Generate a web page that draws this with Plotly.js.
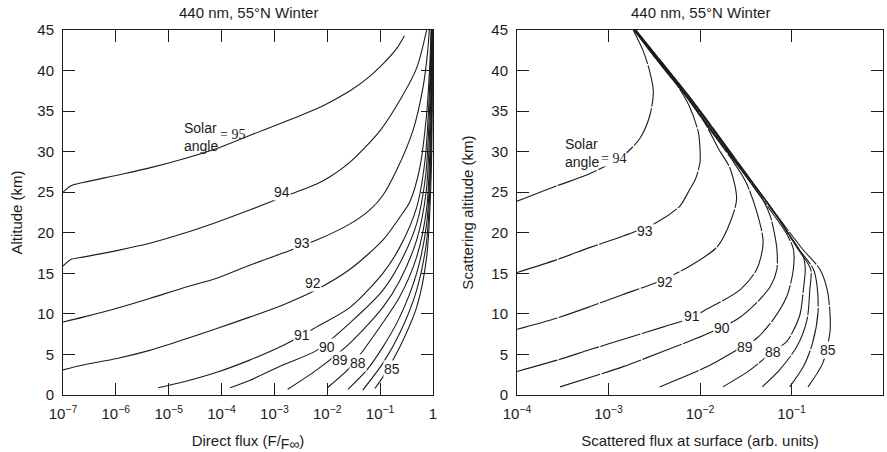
<!DOCTYPE html>
<html>
<head>
<meta charset="utf-8">
<script src="https://cdn.plot.ly/plotly-3.0.1.min.js"></script>
<style>html,body{margin:0;padding:0;background:#fff;}#chart{width:887px;height:452px;}</style>
</head>
<body>
<div id="chart"></div>
<script>
// ---------- Left panel: direct flux (log10 of F/Finf) vs altitude (km) ----------
const directAngles = ["95", "94", "93", "92", "91", "90", "89", "88", "87", "86", "85"];
const direct95X = [-7.0, -6.85, -6.62, -5.98, -5.36, -4.73, -4.09, -3.47, -2.84, -2.20, -1.95, -1.57, -1.25, -0.95, -0.69, -0.54];
const direct95Y = [25.0, 25.8, 26.2, 27.1, 28.0, 29.1, 30.4, 32.0, 33.6, 35.3, 36.1, 37.5, 39.0, 40.8, 42.7, 44.3];
const direct94X = [-7.0, -6.85, -6.62, -5.98, -5.36, -4.73, -4.09, -3.47, -2.84, -2.20, -1.95, -1.57, -1.0, -0.63, -0.31, -0.12];
const direct94Y = [15.9, 16.7, 17.0, 17.8, 18.7, 19.9, 21.3, 22.8, 24.4, 26.0, 26.9, 28.7, 32.6, 36.3, 40.3, 45.0];
const direct93X = [-7.0, -6.62, -5.98, -5.36, -4.73, -4.09, -3.47, -2.84, -2.20, -1.57, -1.20, -0.95, -0.69, -0.38, -0.19, -0.10, -0.07];
const direct93Y = [9.0, 9.6, 10.7, 11.9, 13.2, 14.4, 16.0, 17.5, 19.1, 21.1, 22.8, 24.6, 27.7, 32.6, 37.9, 42.4, 45.0];
const direct92X = [-7.0, -6.62, -5.98, -5.36, -4.73, -4.09, -3.47, -2.84, -2.20, -1.57, -0.95, -0.63, -0.44, -0.25, -0.12, -0.06, -0.035];
const direct92Y = [3.1, 3.7, 4.5, 5.5, 6.8, 8.2, 9.6, 11.1, 13.0, 15.5, 19.1, 21.9, 23.8, 28.0, 34.7, 40.8, 45.0];
const direct91X = [-5.2, -4.73, -4.09, -3.47, -2.84, -2.20, -1.57, -0.95, -0.63, -0.31, -0.15, -0.07, -0.03];
const direct91Y = [0.9, 1.6, 2.8, 4.3, 6.1, 8.4, 10.8, 15.0, 18.2, 23.1, 29.0, 37.0, 45.0];
const direct90X = [-3.84, -3.47, -2.84, -2.20, -1.57, -0.95, -0.63, -0.31, -0.14, -0.06, -0.025];
const direct90Y = [0.9, 1.8, 3.7, 5.5, 8.9, 12.9, 16.2, 21.1, 27.0, 36.0, 45.0];
const direct89X = [-2.75, -2.20, -1.57, -0.95, -0.63, -0.31, -0.13, -0.05, -0.02];
const direct89Y = [0.7, 3.1, 6.4, 10.8, 14.1, 19.1, 25.0, 35.0, 45.0];
const direct88X = [-2.0, -1.57, -0.95, -0.63, -0.31, -0.12, -0.045, -0.015];
const direct88Y = [0.9, 3.4, 8.9, 12.1, 17.0, 23.0, 33.0, 45.0];
const direct87X = [-1.61, -1.25, -0.95, -0.63, -0.31, -0.12, -0.04, -0.012];
const direct87Y = [0.7, 3.1, 5.9, 9.6, 15.0, 21.1, 31.0, 45.0];
const direct86X = [-1.33, -0.95, -0.63, -0.31, -0.12, -0.04, -0.01];
const direct86Y = [0.6, 3.9, 7.6, 12.9, 19.0, 29.0, 45.0];
const direct85X = [-1.1, -0.95, -0.63, -0.31, -0.12, -0.035, -0.008];
const direct85Y = [0.8, 2.2, 5.9, 10.8, 17.0, 27.0, 45.0];

// ---------- Right panel: scattered flux (log10, arb. units) vs scattering altitude ----------
const scatAngles = ["94", "93", "92", "91", "90", "89", "88", "87", "86", "85"];
const scat94X = [-4.0, -3.93, -3.56, -3.20, -2.84, -2.66, -2.55, -2.51, -2.55, -2.62, -2.73];
const scat94Y = [23.9, 24.2, 25.8, 27.3, 29.5, 31.6, 34.4, 37.4, 39.9, 42.4, 45.0];
const scat93X = [-4.0, -3.56, -3.20, -2.84, -2.47, -2.22, -2.11, -2.05, -2.0, -2.0, -2.02, -2.12, -2.28, -2.52, -2.72];
const scat93Y = [15.1, 16.7, 18.2, 19.6, 21.3, 23.3, 25.4, 26.6, 28.7, 30.4, 32.5, 35.7, 38.7, 42.0, 45.0];
const scat92X = [-4.0, -3.56, -3.20, -2.84, -2.47, -2.11, -1.81, -1.67, -1.60, -1.67, -1.80, -1.92, -2.09, -2.38, -2.72];
const scat92Y = [8.1, 9.5, 10.9, 12.4, 13.9, 15.9, 18.3, 21.3, 24.2, 27.9, 30.4, 33.0, 36.0, 40.0, 45.0];
const scat91X = [-4.0, -3.56, -3.20, -2.80, -2.40, -2.09, -1.97, -1.56, -1.38, -1.31, -1.38, -1.50, -1.65, -1.91, -2.23, -2.715];
const scat91Y = [2.9, 4.3, 5.6, 7.0, 8.4, 9.5, 10.3, 13.0, 15.5, 18.8, 22.6, 26.3, 29.0, 33.0, 38.0, 45.0];
const scat90X = [-3.53, -2.84, -2.40, -1.95, -1.60, -1.38, -1.23, -1.16, -1.16, -1.19, -1.23, -1.31, -1.50, -1.77, -2.09, -2.72];
const scat90Y = [1.0, 3.5, 5.4, 7.4, 9.3, 11.4, 13.4, 15.5, 18.0, 20.1, 22.0, 24.0, 27.0, 31.0, 36.0, 45.0];
const scat89X = [-2.44, -1.92, -1.53, -1.38, -1.20, -1.05, -0.98, -0.98, -1.06, -1.245, -1.50, -1.83, -2.23, -2.72];
const scat89Y = [1.0, 3.5, 6.0, 7.0, 9.3, 12.2, 15.5, 18.0, 20.0, 23.0, 27.0, 32.0, 38.0, 45.0];
const scat88X = [-1.75, -1.45, -1.20, -1.05, -0.91, -0.87, -0.85, -0.87, -1.04, -1.28, -1.69, -2.13, -2.715];
const scat88Y = [1.0, 3.1, 5.4, 6.6, 9.8, 13.0, 15.5, 17.0, 20.0, 24.0, 30.0, 37.0, 45.0];
const scat87X = [-1.32, -1.13, -0.94, -0.83, -0.80, -0.79, -0.93, -1.16, -1.55, -2.01, -2.71];
const scat87Y = [1.0, 3.1, 6.0, 9.3, 13.0, 15.5, 18.0, 22.0, 28.0, 35.0, 45.0];
const scat86X = [-1.02, -0.87, -0.77, -0.71, -0.72, -0.76, -0.92, -1.155, -1.545, -2.00, -2.705];
const scat86Y = [1.0, 3.5, 6.4, 10.2, 13.4, 15.5, 18.0, 22.0, 28.0, 35.0, 45.0];
const scat85X = [-0.82, -0.66, -0.58, -0.58, -0.61, -0.69, -0.88, -1.15, -1.54, -1.995, -2.70];
const scat85Y = [1.0, 3.9, 7.7, 10.2, 13.0, 15.5, 18.0, 22.0, 28.0, 35.0, 45.0];

// ---------- Axis ticks / text ----------
const leftTickExp = [-7, -6, -5, -4, -3, -2, -1, 0];
const leftTickText = ["10<sup>−7</sup>", "10<sup>−6</sup>", "10<sup>−5</sup>", "10<sup>−4</sup>", "10<sup>−3</sup>", "10<sup>−2</sup>", "10<sup>−1</sup>", "1"];
const rightTickExp = [-4, -3, -2, -1, 0];
const rightTickText = ["10<sup>−4</sup>", "10<sup>−3</sup>", "10<sup>−2</sup>", "10<sup>−1</sup>", "1"];
const altTicks = [0, 5, 10, 15, 20, 25, 30, 35, 40, 45];
const panelTitle = "440 nm, 55°N Winter";

// curve label positions (log10 x, altitude)
const directLabelText = ["94", "93", "92", "91", "90", "89", "88", "85"];
const directLabelX = [-2.86, -2.48, -2.27, -2.48, -2.00, -1.76, -1.42, -0.78];
const directLabelY = [25.0, 18.8, 13.8, 7.4, 5.9, 4.3, 3.9, 3.2];
const scatLabelText = ["93", "92", "91", "90", "89", "88", "85"];
const scatLabelX = [-2.60, -2.38, -2.09, -1.76, -1.51, -1.20, -0.60];
const scatLabelY = [20.2, 13.9, 9.7, 8.3, 5.9, 5.3, 5.6];

const pow10 = a => a.map(v => Math.pow(10, v));
const ink = '#1c1c1c';
const FONT = 'Liberation Sans, Arial, sans-serif';

const directSeries = [
  [direct95X, direct95Y], [direct94X, direct94Y], [direct93X, direct93Y], [direct92X, direct92Y],
  [direct91X, direct91Y], [direct90X, direct90Y], [direct89X, direct89Y], [direct88X, direct88Y],
  [direct87X, direct87Y], [direct86X, direct86Y], [direct85X, direct85Y]
];
const scatSeries = [
  [scat94X, scat94Y], [scat93X, scat93Y], [scat92X, scat92Y], [scat91X, scat91Y], [scat90X, scat90Y],
  [scat89X, scat89Y], [scat88X, scat88Y], [scat87X, scat87Y], [scat86X, scat86Y], [scat85X, scat85Y]
];

const traces = [];
directSeries.forEach((s, i) => traces.push({
  x: pow10(s[0]), y: s[1], xaxis: 'x', yaxis: 'y', type: 'scatter', mode: 'lines',
  name: directAngles[i], line: {color: ink, width: 1.1, shape: 'spline', smoothing: 0.8},
  hoverinfo: 'name', showlegend: false
}));
scatSeries.forEach((s, i) => traces.push({
  x: pow10(s[0]), y: s[1], xaxis: 'x2', yaxis: 'y2', type: 'scatter', mode: 'lines',
  name: scatAngles[i], line: {color: ink, width: 1.1, shape: 'spline', smoothing: 0.8, dash: '42px,1.5px'},
  hoverinfo: 'name', showlegend: false
}));

const annotations = [];
const labelFont = {family: FONT, size: 14, color: ink};
directLabelText.forEach((t, i) => annotations.push({
  xref: 'x', yref: 'y', x: directLabelX[i], y: directLabelY[i], text: t, showarrow: false,
  font: labelFont, bgcolor: 'white', borderpad: 0
}));
scatLabelText.forEach((t, i) => annotations.push({
  xref: 'x2', yref: 'y2', x: scatLabelX[i], y: scatLabelY[i], text: t, showarrow: false,
  font: labelFont, bgcolor: 'white', borderpad: 0
}));
// "Solar angle = 95" / "= 94"
annotations.push({xref: 'x', yref: 'y', x: -4.39, y: 31.8, text: 'Solar<br>angle', showarrow: false, font: {family: FONT, size: 14, color: ink}, align: 'left'});
annotations.push({xref: 'x', yref: 'y', x: -3.80, y: 32.1, text: '= 95', showarrow: false, font: {family: 'Liberation Serif, Times New Roman, serif', size: 14, color: ink}});
annotations.push({xref: 'x2', yref: 'y2', x: -3.29, y: 29.8, text: 'Solar<br>angle', showarrow: false, font: {family: FONT, size: 14, color: ink}, align: 'left'});
annotations.push({xref: 'x2', yref: 'y2', x: -2.95, y: 29.2, text: '= 94', showarrow: false, font: {family: 'Liberation Serif, Times New Roman, serif', size: 14, color: ink}, bgcolor: 'white', borderpad: 0});
// panel titles
const dL = [63 / 887, 433 / 887], dR = [517 / 887, 883 / 887];
annotations.push({xref: 'paper', yref: 'paper', x: (dL[0] + dL[1]) / 2, xanchor: 'center', y: 1.047, yanchor: 'middle', text: panelTitle, showarrow: false, font: {family: FONT, size: 15, color: ink}});
annotations.push({xref: 'paper', yref: 'paper', x: (dR[0] + dR[1]) / 2, xanchor: 'center', y: 1.047, yanchor: 'middle', text: panelTitle, showarrow: false, font: {family: FONT, size: 15, color: ink}});

const axisCommon = {
  showline: true, linecolor: ink, linewidth: 1, mirror: 'ticks', ticks: 'inside', ticklen: 12,
  tickcolor: ink, tickwidth: 1, showgrid: false, zeroline: false,
  tickfont: {family: FONT, size: 15, color: ink}, fixedrange: true
};

const layout = {
  width: 887, height: 452,
  margin: {l: 0, r: 0, t: 30, b: 57},
  paper_bgcolor: 'white', plot_bgcolor: 'white',
  showlegend: false,
  xaxis: Object.assign({}, axisCommon, {
    domain: dL, type: 'log', range: [-7, 0], tickmode: 'array',
    tickvals: pow10(leftTickExp), ticktext: leftTickText, anchor: 'y',
    ticklabelstandoff: 5,
    title: {text: 'Direct flux (F/<sub><span style="font-size:14px">F∞</span></sub>)', font: {family: FONT, size: 15, color: ink}, standoff: 14}
  }),
  yaxis: Object.assign({}, axisCommon, {
    domain: [0, 1], range: [0, 45], tickmode: 'array', tickvals: altTicks, anchor: 'x',
    ticklabelstandoff: 5,
    title: {text: 'Altitude (km)', font: {family: FONT, size: 15, color: ink}, standoff: 11}
  }),
  xaxis2: Object.assign({}, axisCommon, {
    domain: dR, type: 'log', range: [-4, 0], tickmode: 'array',
    tickvals: pow10(rightTickExp), ticktext: rightTickText, anchor: 'y2',
    ticklabelstandoff: 5,
    title: {text: 'Scattered flux at surface (arb. units)', font: {family: FONT, size: 15, color: ink}, standoff: 14}
  }),
  yaxis2: Object.assign({}, axisCommon, {
    domain: [0, 1], range: [0, 45], tickmode: 'array', tickvals: altTicks, anchor: 'x2',
    ticklabelstandoff: 5,
    title: {text: 'Scattering altitude (km)', font: {family: FONT, size: 15, color: ink}, standoff: 14}
  }),
  annotations: annotations
};

Plotly.newPlot('chart', traces, layout, {displayModeBar: false, staticPlot: true});
</script>
</body>
</html>
